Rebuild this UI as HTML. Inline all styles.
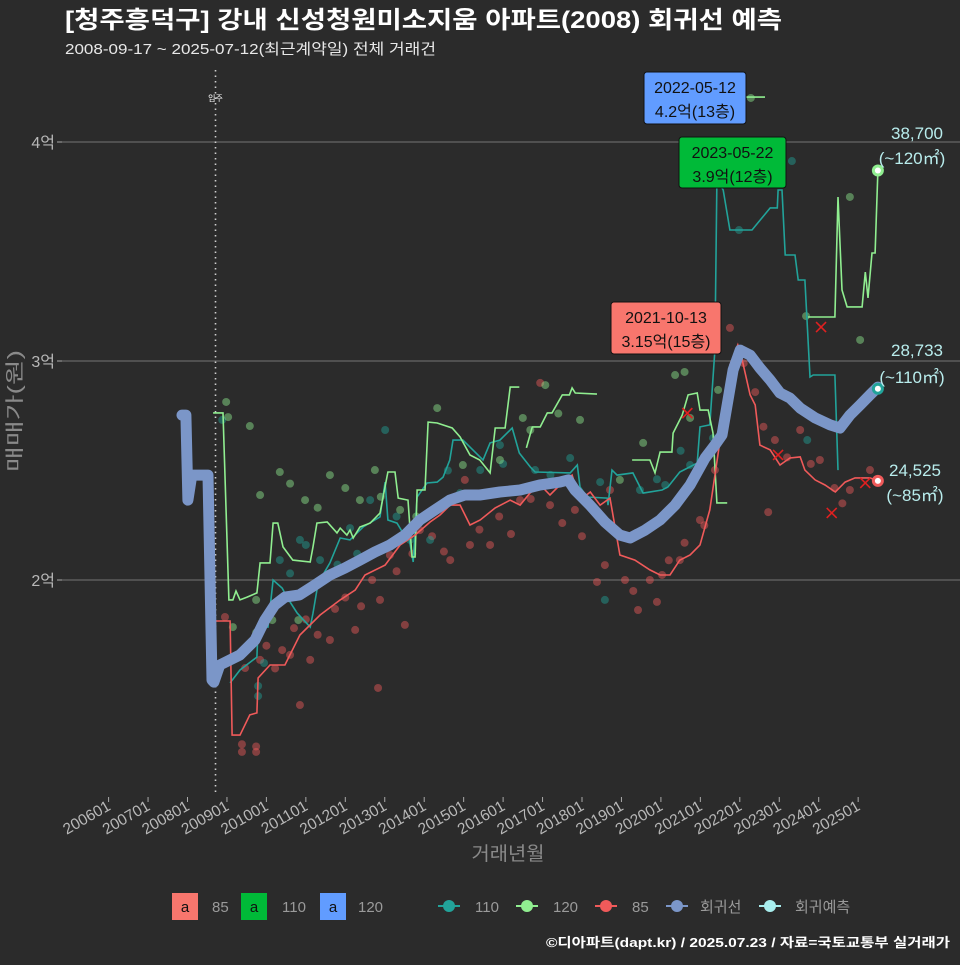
<!DOCTYPE html>
<html><head><meta charset="utf-8">
<style>
html,body{margin:0;padding:0;background:#2b2b2b;}
body{width:960px;height:960px;overflow:hidden;font-family:"Liberation Sans","Noto Sans CJK KR",sans-serif;}
</style></head>
<body>
<svg id="chart" width="960" height="960" xmlns="http://www.w3.org/2000/svg" font-family="Liberation Sans, Noto Sans CJK KR, sans-serif">
<rect width="960" height="960" fill="#2b2b2b"/>
<text x="65" y="28" fill="#ffffff" font-size="24" font-weight="bold" textLength="717" lengthAdjust="spacingAndGlyphs">[청주흥덕구] 강내 신성청원미소지움 아파트(2008) 회귀선 예측</text>
<text x="65" y="54" fill="#e8e8e8" font-size="15" textLength="371" lengthAdjust="spacingAndGlyphs">2008-09-17 ~ 2025-07-12(최근계약일) 전체 거래건</text>
<g id="grid"></g>
<g id="axes"></g>
<g id="marks"></g>
<g id="ann"></g>
<text transform="translate(21,411) rotate(-90)" text-anchor="middle" fill="#8a8a8a" font-size="19" textLength="122" lengthAdjust="spacingAndGlyphs">매매가(원)</text>
<text x="508" y="860" text-anchor="middle" fill="#8a8a8a" font-size="19" textLength="73" lengthAdjust="spacingAndGlyphs">거래년월</text>
<g font-size="15" fill="#9a9a9a">
  <rect x="172" y="893" width="26" height="27" fill="#f8766d"/><text x="185" y="912" text-anchor="middle" fill="#111">a</text><text x="212" y="912">85</text>
  <rect x="241" y="893" width="26" height="27" fill="#00ba38"/><text x="254" y="912" text-anchor="middle" fill="#111">a</text><text x="282" y="912">110</text>
  <rect x="320" y="893" width="26" height="27" fill="#619cff"/><text x="333" y="912" text-anchor="middle" fill="#111">a</text><text x="358" y="912">120</text>
  <g><line x1="438" y1="906" x2="460" y2="906" stroke="#22a39a" stroke-width="2"/><circle cx="449" cy="906" r="6" fill="#22a39a"/></g><text x="475" y="912">110</text>
  <g><line x1="516" y1="906" x2="538" y2="906" stroke="#90ee90" stroke-width="2"/><circle cx="527" cy="906" r="6" fill="#90ee90"/></g><text x="553" y="912">120</text>
  <g><line x1="595" y1="906" x2="617" y2="906" stroke="#f05a5a" stroke-width="2"/><circle cx="606" cy="906" r="6" fill="#f05a5a"/></g><text x="632" y="912">85</text>
  <g><line x1="666" y1="906" x2="688" y2="906" stroke="#7b96c8" stroke-width="2"/><circle cx="677" cy="906" r="6" fill="#7b96c8"/></g><text x="700" y="912">회귀선</text>
  <g><line x1="759" y1="906" x2="781" y2="906" stroke="#a8eeee" stroke-width="2"/><circle cx="770" cy="906" r="6" fill="#a8eeee"/></g><text x="795" y="912">회귀예측</text>
</g>
<text x="546" y="947" fill="#ffffff" font-size="13" font-weight="bold" textLength="404" lengthAdjust="spacingAndGlyphs">©디아파트(dapt.kr) / 2025.07.23 / 자료=국토교통부 실거래가</text>
</svg>
<script>
// ---- data (t = decimal year, v = 만원) ----
const xTickLabels = ['200601','200701','200801','200901','201001','201101','201201','201301','201401','201501','201601','201701','201801','201901','202001','202101','202201','202301','202401','202501'];
const yTicks = [20000, 30000, 40000];
const yTickLabels = ['2억','3억','4억'];
const regT = [2007.86,2007.96,2008.01,2008.11,2008.52,2008.62,2008.67,2008.82,2009.33,2009.71,2009.96,2010.21,2010.47,2010.84,2011.23,2011.61,2011.99,2012.37,2012.75,2013.13,2013.51,2013.89,2014.27,2014.65,2015.03,2015.41,2015.92,2016.43,2016.93,2017.44,2017.65,2017.82,2018.20,2018.58,2018.96,2019.22,2019.60,2019.98,2020.36,2020.74,2021.12,2021.37,2021.55,2021.70,2021.83,2022.01,2022.26,2022.51,2022.77,2023.02,2023.27,2023.53,2023.91,2024.29,2024.54,2024.79,2025.05,2025.30,2025.50];
const regV = [27530,27530,23650,24790,24790,15430,15340,16120,16580,17260,18170,18860,19220,19320,19770,20230,20550,20910,21280,21600,22050,22740,23200,23650,23880,23880,24020,24110,24340,24470,24570,24110,23420,22650,22050,21920,22280,22740,23420,24340,25570,26160,26620,28220,29590,30500,30270,29680,29130,28540,28310,27850,27400,27080,26940,27530,27990,28450,28810];
const redT = [2008.70,2009.08,2009.13,2009.33,2009.58,2009.76,2009.79,2010.09,2010.47,2010.85,2011.36,2011.87,2012.25,2012.50,2013.01,2013.39,2013.77,2014.15,2014.40,2014.66,2014.91,2015.16,2015.42,2015.80,2016.18,2016.43,2016.68,2016.94,2017.19,2017.44,2017.75,2017.95,2018.21,2018.46,2018.71,2018.96,2019.34,2019.72,2019.98,2020.23,2020.48,2020.74,2020.99,2021.24,2021.50,2021.75,2021.95,2022.06,2022.26,2022.39,2022.51,2022.77,2023.02,2023.27,2023.53,2023.65,2023.91,2024.16,2024.42,2024.67,2024.92,2025.30,2025.50];
const redV = [18130,18130,12920,12920,13840,13930,15530,16120,16120,17490,18400,19090,19540,20230,20680,21600,22050,22650,22970,23420,23420,22510,22740,23290,23650,23420,23970,24340,23880,24340,24790,23650,24020,23420,23740,21140,20910,20460,20230,20230,20910,21140,21600,23200,26390,29820,30730,30050,28450,27990,26160,25940,25250,25570,25620,25020,24570,24340,24020,24470,24660,24660,24525];
const greenSegT = [
 [2008.65,2008.90,2009.05,2009.15,2009.23,2009.33,2009.51,2009.76,2009.84,2010.09,2010.17,2010.29,2010.42,2010.67,2011.11,2011.18,2011.28,2011.54,2011.79,2011.87,2012.04,2012.12,2012.20,2012.37,2012.63,2012.88,2013.08,2013.26,2013.34,2013.59,2013.69,2013.77,2013.82,2014.02,2014.10,2014.33,2014.71,2014.91,2015.16,2015.41,2015.67,2015.80,2016.05,2016.18,2016.41],
 [2016.59,2016.74,2016.94,2017.12,2017.24,2017.50,2017.68,2017.75,2017.83,2018.38],
 [2019.27,2019.72,2019.85,2019.98,2020.28,2020.31,2020.54,2020.69,2020.92,2020.99,2021.20,2021.32,2021.42,2021.68],
 [2022.13,2022.64],
 [2023.73,2024.41,2024.49,2024.59,2024.72,2025.10,2025.18,2025.25,2025.35,2025.43,2025.50]];
const greenSegV = [
 [27630,27630,19090,19090,19500,19090,19220,19410,20780,20780,22600,22600,21510,20910,20820,21510,22600,22650,22150,22370,22050,22280,21920,22420,22600,23060,24930,24930,23740,23650,21050,21050,24110,24110,27210,27170,26940,26530,25710,25480,24890,26940,26940,28810,28810],
 [26030,26990,26990,27630,27630,28450,28450,28770,28540,28490],
 [25480,25480,24890,25840,25840,26710,27530,28450,28540,27760,27760,26710,23520,23520],
 [42050,42050],
 [32010,32010,37490,33240,32470,32470,34060,32880,34930,34930,38700]];
const tealT = [2009.08,2009.33,2009.76,2009.79,2010.04,2010.17,2010.40,2010.52,2010.78,2011.11,2011.18,2011.31,2011.61,2011.87,2012.12,2012.45,2012.88,2013.01,2013.08,2013.31,2013.46,2013.59,2013.72,2013.82,2014.07,2014.33,2014.48,2014.65,2014.73,2014.98,2015.49,2015.67,2015.92,2016.23,2016.41,2016.69,2016.81,2017.70,2017.88,2017.95,2018.13,2018.64,2018.66,2018.76,2018.89,2019.29,2019.55,2020.03,2020.18,2020.48,2020.92,2020.99,2021.24,2021.37,2021.42,2021.58,2021.75,2022.31,2022.77,2022.95,2022.97,2023.07,2023.15,2023.40,2023.48,2023.65,2023.78,2023.86,2024.41,2024.49];
const tealV = [15300,15890,16480,17850,17850,20000,19630,19220,18490,17850,18490,19860,20780,21920,21830,22420,22880,24470,22740,22600,22150,22190,20820,23790,24430,24470,24700,25480,26390,26390,25480,26260,26390,26940,25800,25160,24930,24890,25250,24250,23790,23740,23420,25020,24790,24890,23970,24110,24250,24930,25340,26990,27080,30500,38260,37810,35980,35980,36990,36990,37810,37810,34840,34840,33700,33700,29270,29360,29360,25020];
const redPtT = [2008.95,2009.38,2009.74,2009.46,2009.84,2010.22,2010.60,2011.11,2011.61,2011.74,2012.25,2012.83,2012.88,2013.51,2010.85,2012.68,2013.13,2013.89,2014.66,2015.16,2015.67,2016.43,2017.19,2017.82,2018.58,2018.71,2019.09,2019.72,2020.03,2020.48,2020.99,2021.37,2021.75,2022.39,2022.89,2023.53,2024.03,2024.79,2025.30,2022.72,2019.42,2016.94,2015.03,2018.38,2009.38,2009.74,2010.0,2010.4,2010.7,2011.0,2011.3,2012.0,2012.4,2013.3,2013.7,2014.2,2014.5,2015.4,2015.9,2016.2,2016.7,2017.5,2018.0,2019.3,2019.9,2020.2,2020.6,2021.1,2021.6,2022.1,2022.6,2023.2,2023.8,2024.4,2024.6];
const redPtV = [18310,12150,12150,15980,16350,15960,16580,16350,17260,18680,17720,15070,19090,17950,14290,20000,21140,22280,20910,21600,21600,23650,23420,23200,20680,24110,20000,20000,20230,20910,22740,25020,31510,28580,26390,26850,25480,24110,25020,23100,18630,29000,24570,19910,12500,12400,17000,16800,17800,18200,17500,19200,18800,20400,21200,22000,21300,22300,22900,22100,23700,22600,22000,19500,19000,20900,21700,22500,27500,29900,27000,25600,25300,24200,23500];
const tealPtT = [2008.88,2009.79,2009.94,2010.34,2010.85,2011.36,2012.12,2012.63,2013.01,2013.64,2014.15,2014.91,2015.42,2015.92,2016.81,2017.70,2018.46,2019.47,2020.11,2020.74,2021.32,2023.32,2021.98,2023.71,2018.58,2009.79,2010.6,2011.0,2011.8,2012.3,2013.3,2014.6,2016.0,2017.2,2019.9,2020.5];
const tealPtV = [27310,15160,16210,20910,21830,20910,22370,23650,26850,21830,21830,23970,25020,26160,25020,25570,24470,24110,24340,25250,26480,39130,35980,26390,19090,14700,20300,21600,20700,21200,22900,25000,25300,24800,24600,25900];
const greenPtT = [2008.98,2009.03,2009.58,2009.84,2010.34,2010.98,2011.61,2012.37,2012.75,2013.39,2014.33,2014.98,2015.92,2016.69,2017.07,2017.95,2018.96,2019.55,2020.36,2020.74,2021.45,2022.28,2024.79,2025.05,2023.68,2009.15,2010.15,2010.81,2009.74,2009.74,2010.6,2011.3,2012.0,2012.9,2013.8,2016.5,2017.4,2020.6];
const greenPtV = [28130,27440,27030,23880,24930,23650,24790,23650,25020,23200,27850,25250,25480,26850,28900,27310,24570,26260,29360,27400,28680,42010,37490,30960,32050,17850,18170,18170,19090,17600,24400,23300,24200,23800,22900,27400,27600,29500];
const crossT = [2020.67,2024.06,2022.97,2024.33,2025.18];
const crossV = [27620,31550,25710,23060,24430];
const moveInT = 2008.71;

// ---- scales ----
const X0 = 108.6, XS = 39.45, Y0 = 580, YS = 219/10000;
function xs(t){ return X0 + (t-2006)*XS; }
function ys(v){ return Y0 - (v-20000)*YS; }
const NS='http://www.w3.org/2000/svg';
function mk(tag, attrs, parent){ const e=document.createElementNS(NS,tag); for(const k in attrs) e.setAttribute(k,attrs[k]); parent.appendChild(e); return e; }
const grid=document.getElementById('grid'), axes=document.getElementById('axes'), marks=document.getElementById('marks'), ann=document.getElementById('ann');

yTicks.forEach((v,i)=>{
  const l=mk('line',{x1:62,x2:960,y1:ys(v),y2:ys(v),stroke:'#5c5c5c','stroke-width':1.4},grid);
  
  
  const tk=mk('line',{x1:57,x2:62,y1:ys(v),y2:ys(v),stroke:'#aaa','stroke-width':1},axes);
  
  
  const tx=mk('text',{x:55,y:ys(v)+6,'text-anchor':'end',fill:'#b8b8b8','font-size':16},axes);
  
  
  tx.textContent=yTickLabels[i];
});
xTickLabels.forEach((lab,i)=>{
  const t=parseInt(lab.slice(0,4))+ (parseInt(lab.slice(4))-1)/12;
  const x=xs(t);
  const tk=mk('line',{x1:x,x2:x,y1:797,y2:802,stroke:'#aaa','stroke-width':1},axes);
  
  
  const tx=mk('text',{transform:`translate(${x+3},809) rotate(-30)`,'text-anchor':'end',fill:'#b8b8b8','font-size':15.5},axes);
  
  
  tx.textContent=lab;
});
const mi=mk('line',{x1:xs(moveInT),x2:xs(moveInT),y1:70,y2:792,stroke:'#cfcfcf','stroke-width':1.6,'stroke-dasharray':'1.5,4'},grid);


const mt=mk('text',{x:xs(moveInT),y:101,'text-anchor':'middle',fill:'#fff','font-size':8},grid);


mt.textContent='입주';

function pts(ts,vs){ return ts.map((t,i)=>xs(t).toFixed(1)+','+ys(vs[i]).toFixed(1)).join(' '); }
function scatter(ts,vs,col,name){
  ts.forEach((t,i)=>{
    const c=mk('circle',{cx:xs(t),cy:ys(vs[i]),r:4,fill:col,'fill-opacity':0.45},marks);
    
    
  });
}
scatter(redPtT,redPtV,'#f05a5a','point-85');
scatter(tealPtT,tealPtV,'#22a39a','point-110');
scatter(greenPtT,greenPtV,'#90ee90','point-120');

const tl=mk('polyline',{points:pts(tealT,tealV),fill:'none',stroke:'#22a39a','stroke-width':1.6},marks);


greenSegT.forEach((seg,i)=>{
  const g=mk('polyline',{points:pts(seg,greenSegV[i]),fill:'none',stroke:'#90ee90','stroke-width':1.6},marks);
  
  
});
const rl=mk('polyline',{points:pts(redT,redV),fill:'none',stroke:'#f05a5a','stroke-width':1.6},marks);


const reg=mk('polyline',{points:pts(regT,regV),fill:'none',stroke:'#7b96c8','stroke-width':11,'stroke-linejoin':'round','stroke-linecap':'round'},marks);



crossT.forEach((t,i)=>{
  const x=xs(t),y=ys(crossV[i]);
  const p=mk('path',{d:`M${x-5},${y-5}L${x+5},${y+5}M${x+5},${y-5}L${x-5},${y+5}`,stroke:'#e02020','stroke-width':1.6},marks);
  
  
});

const ends=[[2025.50,38700,'#90ee90','end-120'],[2025.50,28733,'#22a39a','end-110'],[2025.50,24525,'#f05a5a','end-85']];
ends.forEach(e=>{
  const x=xs(e[0]),y=ys(e[1]);
  const c=mk('circle',{cx:x,cy:y,r:6,fill:e[2]},ann);
  
  
  mk('circle',{cx:x,cy:y,r:3,fill:'#fff'},ann);
});
const labs=[[917,139,'38,700'],[912,164,'(~120㎡)'],[917,356,'28,733'],[912,383,'(~110㎡)'],[915,476,'24,525'],[915,501,'(~85㎡)']];
labs.forEach(l=>{
  const t=mk('text',{x:l[0],y:l[1],'text-anchor':'middle',fill:'#b8ecec','font-size':17},ann);
  
  
  t.textContent=l[2];
});
const boxes=[[644,72,102,52,'#619cff','2022-05-12','4.2억(13층)','max-label-120'],[679,137,107,51,'#00ba38','2023-05-22','3.9억(12층)','max-label-110'],[611,302,110,52,'#f8766d','2021-10-13','3.15억(15층)','max-label-85']];
boxes.forEach(b=>{
  const g=mk('g',{},ann);
  
  
  mk('rect',{x:b[0],y:b[1],width:b[2],height:b[3],rx:3,fill:b[4],stroke:'#111','stroke-width':1},g);
  const t1=mk('text',{x:b[0]+b[2]/2,y:b[1]+21,'text-anchor':'middle',fill:'#111','font-size':16},g); t1.textContent=b[5];
  const t2=mk('text',{x:b[0]+b[2]/2,y:b[1]+45,'text-anchor':'middle',fill:'#111','font-size':16},g); t2.textContent=b[6];
});
</script>
</body></html>
